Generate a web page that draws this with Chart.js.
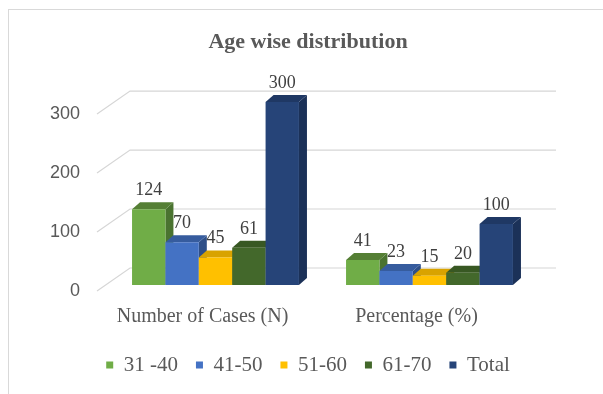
<!DOCTYPE html>
<html>
<head>
<meta charset="utf-8">
<title>Age wise distribution</title>
<script src="https://cdn.jsdelivr.net/npm/chart.js@4.4.1/dist/chart.umd.min.js"></script>
<style>
  html, body { margin: 0; padding: 0; background: #fff; overflow: hidden; width: 603px; height: 394px; }
  #frameTop { position: absolute; left: 8px; top: 9px; width: 595px; height: 0; border-top: 1px solid #d9d9d9; }
  #frameLeft { position: absolute; left: 8px; top: 9px; width: 0; height: 385px; border-left: 1px solid #d9d9d9; }
  #wrap { position: absolute; left: 0; top: 0; width: 603px; height: 394px; }
</style>
</head>
<body>
<div id="frameTop"></div>
<div id="frameLeft"></div>
<div id="wrap"><canvas id="ageChart" width="603" height="394"></canvas></div>
<script>
const categories = ['Number of Cases (N)', 'Percentage (%)'];
const ageGroups = ['31 -40', '41-50', '51-60', '61-70', 'Total'];
const age31to40 = [124, 41];
const age41to50 = [70, 23];
const age51to60 = [45, 15];
const age61to70 = [61, 20];
const totals = [300, 100];
const yTicks = [0, 100, 200, 300];

// front / top / side colour of each series
const shades = [
  { front: '#70AD47', top: '#557F35', side: '#4A7330' },
  { front: '#4472C4', top: '#365C9E', side: '#2E4F88' },
  { front: '#FFC000', top: '#D9A300', side: '#BF9000' },
  { front: '#43682B', top: '#385823', side: '#2F4B1E' },
  { front: '#264478', top: '#1F3864', side: '#1B3158' }
];

const SERIF = "'Liberation Serif', 'Times New Roman', serif";
const SANS = "'Liberation Sans', Arial, sans-serif";

// depth of each bar and of the back wall
const BAR_DX = 8, BAR_DY = 7;
const WALL_DX_L = 21.5, WALL_DX_R = 19.5, WALL_DY = 17, WALL_K = 0.967;
const FLOOR_DX = 11.5, FLOOR_DY = 23;

function backY(yScale, v) {
  const base = yScale.getPixelForValue(0);
  return base - WALL_DY - (base - yScale.getPixelForValue(v)) * WALL_K;
}

const bars3d = {
  id: 'bars3d',
  beforeDatasetsDraw(chart) {
    // back wall grid, side wall diagonals and the value axis labels
    const { ctx, chartArea, scales: { y } } = chart;
    ctx.save();
    ctx.strokeStyle = '#d6d6d6';
    ctx.lineWidth = 1.2;
    ctx.fillStyle = '#595959';
    ctx.font = '18px ' + SANS;
    ctx.textAlign = 'right';
    ctx.textBaseline = 'middle';
    y.ticks.forEach(t => {
      const yb = backY(y, t.value);
      const xl = chartArea.left + WALL_DX_L;
      ctx.beginPath();
      ctx.moveTo(chartArea.left - FLOOR_DX, yb + FLOOR_DY);
      ctx.lineTo(xl, yb);
      ctx.lineTo(chartArea.right + WALL_DX_R, yb);
      ctx.stroke();
      ctx.fillText(t.label, chartArea.left - 28.5, yb + FLOOR_DY);
    });
    ctx.restore();
  },
  beforeDatasetDraw() {
    // bars are painted below, left to right, so faces overlap properly
    return false;
  },
  afterDatasetsDraw(chart) {
    const ctx = chart.ctx;
    const n = chart.data.datasets.length;
    ctx.save();
    categories.forEach((c, i) => {
      for (let d = 0; d < n; d++) {
        const bar = chart.getDatasetMeta(d).data[i];
        const { x, y, base, width } = bar.getProps(['x', 'y', 'base', 'width'], true);
        const l = x - width / 2, r = x + width / 2;
        ctx.fillStyle = shades[d].side;
        ctx.beginPath();
        ctx.moveTo(r, y);
        ctx.lineTo(r + BAR_DX, y - BAR_DY);
        ctx.lineTo(r + BAR_DX, base - BAR_DY);
        ctx.lineTo(r, base);
        ctx.closePath();
        ctx.fill();
        ctx.fillStyle = shades[d].top;
        ctx.beginPath();
        ctx.moveTo(l, y);
        ctx.lineTo(l + BAR_DX, y - BAR_DY);
        ctx.lineTo(r + BAR_DX, y - BAR_DY);
        ctx.lineTo(r, y);
        ctx.closePath();
        ctx.fill();
        bar.draw(ctx, chart.chartArea);
      }
    });
    // value labels
    ctx.fillStyle = '#404040';
    ctx.font = '18px ' + SERIF;
    ctx.textAlign = 'center';
    ctx.textBaseline = 'middle';
    chart.data.datasets.forEach((ds, d) => {
      chart.getDatasetMeta(d).data.forEach((bar, i) => {
        ctx.fillText(String(ds.data[i]), bar.x, bar.y - 19);
      });
    });
    ctx.restore();
  }
};

const seriesValues = [age31to40, age41to50, age51to60, age61to70, totals];

const ctx = document.getElementById('ageChart').getContext('2d');
new Chart(ctx, {
  type: 'bar',
  data: {
    labels: categories,
    datasets: ageGroups.map((name, d) => ({
      label: name,
      data: seriesValues[d],
      backgroundColor: shades[d].front,
      borderWidth: 0,
      categoryPercentage: 0.78,
      barPercentage: 1.0
    }))
  },
  options: {
    responsive: false,
    animation: false,
    events: [],
    layout: { padding: { left: 13, right: 0, top: 0, bottom: 8.5 } },
    scales: {
      x: {
        grid: { display: false, drawTicks: false },
        border: { display: false },
        ticks: {
          padding: 20,
          labelOffset: -13,
          color: '#595959',
          font: { family: SERIF, size: 20 }
        },
        afterFit: s => { s.height = 51.5; }
      },
      y: {
        min: yTicks[0],
        max: yTicks[yTicks.length - 1],
        afterBuildTicks: s => { s.ticks = yTicks.map(v => ({ value: v })); },
        ticks: { display: false },
        grid: { display: false },
        border: { display: false },
        afterFit: s => { s.width = 95.5; }
      },
      yRight: {
        position: 'right',
        min: 0,
        max: 300,
        ticks: { display: false },
        grid: { display: false },
        border: { display: false },
        afterFit: s => { s.width = 66.5; }
      }
    },
    plugins: {
      tooltip: { enabled: false },
      title: {
        display: true,
        text: 'Age wise distribution',
        color: '#595959',
        font: { family: SERIF, size: 22, weight: 'bold' },
        padding: { top: 28.8, bottom: 46.8 }
      },
      legend: {
        position: 'bottom',
        labels: {
          boxWidth: 7,
          boxHeight: 7,
          padding: 18,
          color: '#595959',
          font: { family: SERIF, size: 21 }
        }
      }
    }
  },
  plugins: [bars3d]
});
</script>
</body>
</html>
